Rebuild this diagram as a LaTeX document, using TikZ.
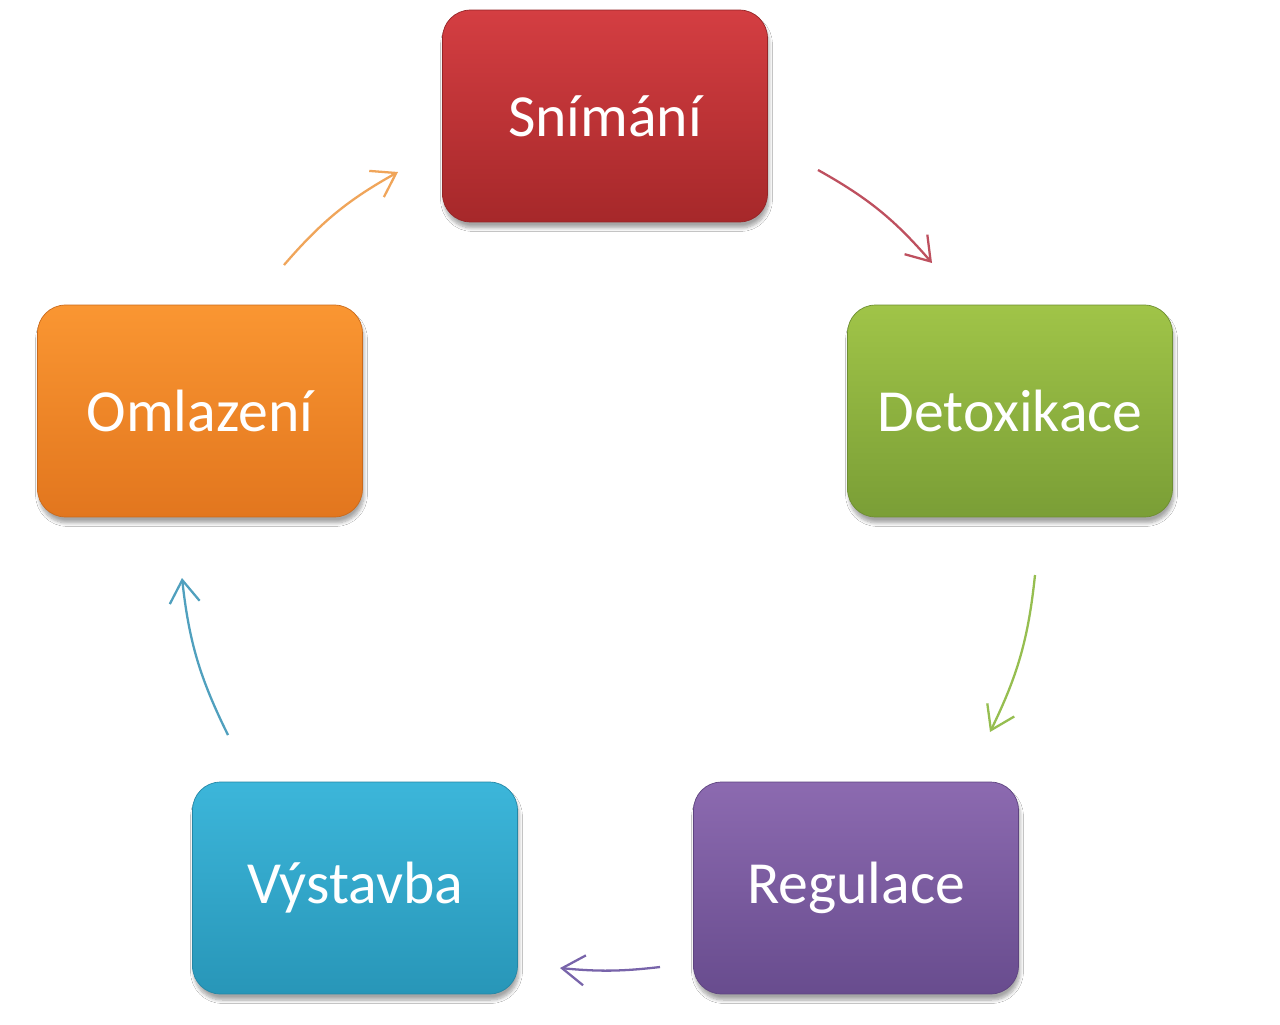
\documentclass[tikz,border=0pt]{standalone}
\usepackage{fontspec}
\setmainfont{Carlito}
\usetikzlibrary{arrows.meta,shadows.blur}
\definecolor{redT}{RGB}{212,62,66}
\definecolor{redB}{RGB}{166,40,42}
\definecolor{redA}{RGB}{190,80,95}
\definecolor{grnT}{RGB}{160,196,72}
\definecolor{grnB}{RGB}{122,158,54}
\definecolor{grnA}{RGB}{150,190,80}
\definecolor{purT}{RGB}{140,106,176}
\definecolor{purB}{RGB}{104,76,142}
\definecolor{purA}{RGB}{120,100,170}
\definecolor{bluT}{RGB}{60,182,218}
\definecolor{bluB}{RGB}{40,150,184}
\definecolor{bluA}{RGB}{80,160,190}
\definecolor{orgT}{RGB}{250,150,50}
\definecolor{orgB}{RGB}{226,118,30}
\definecolor{orgA}{RGB}{240,165,90}
\begin{document}
\begin{tikzpicture}[x=0.02cm,y=-0.02cm,
  box/.style={rounded corners=0.56cm, minimum width=6.5cm, minimum height=4.24cm,
    inner sep=0pt, text=white, font=\fontsize{34}{40}\selectfont,
    blur shadow={shadow xshift=0.3mm, shadow yshift=-1.2mm, shadow blur steps=8, shadow opacity=35}},
  conn/.style={-{Straight Barb[length=4.5mm,width=6mm]}, line width=1.3pt, bend left=10}]
\path[use as bounding box, fill=white] (0,0) rectangle (1280,1024);

\node[box, top color=redT, bottom color=redB, draw=redB!90!black] (snim) at (605,116) {Snímání};
\node[box, top color=grnT, bottom color=grnB, draw=grnB!90!black] (detox) at (1010,411) {Detoxikace};
\node[box, top color=purT, bottom color=purB, draw=purB!90!black] (reg) at (856,888) {Regulace};
\node[box, top color=bluT, bottom color=bluB, draw=bluB!90!black] (vyst) at (355,888) {Výstavba};
\node[box, top color=orgT, bottom color=orgB, draw=orgB!90!black] (oml) at (200,411) {Omlazení};

\coordinate (a1s) at (818,170);  \coordinate (a1e) at (932,263);
\coordinate (a2s) at (1035,575); \coordinate (a2e) at (990,732);
\coordinate (a3s) at (660,967);  \coordinate (a3e) at (560,968);
\coordinate (a4s) at (228,735);  \coordinate (a4e) at (182,578);
\coordinate (a5s) at (284,265);  \coordinate (a5e) at (398,172);

\draw[conn, redA] (a1s) to (a1e);
\draw[conn, grnA] (a2s) to (a2e);
\draw[conn, purA, bend left=6] (a3s) to (a3e);
\draw[conn, bluA] (a4s) to (a4e);
\draw[conn, orgA] (a5s) to (a5e);
\end{tikzpicture}
\end{document}
